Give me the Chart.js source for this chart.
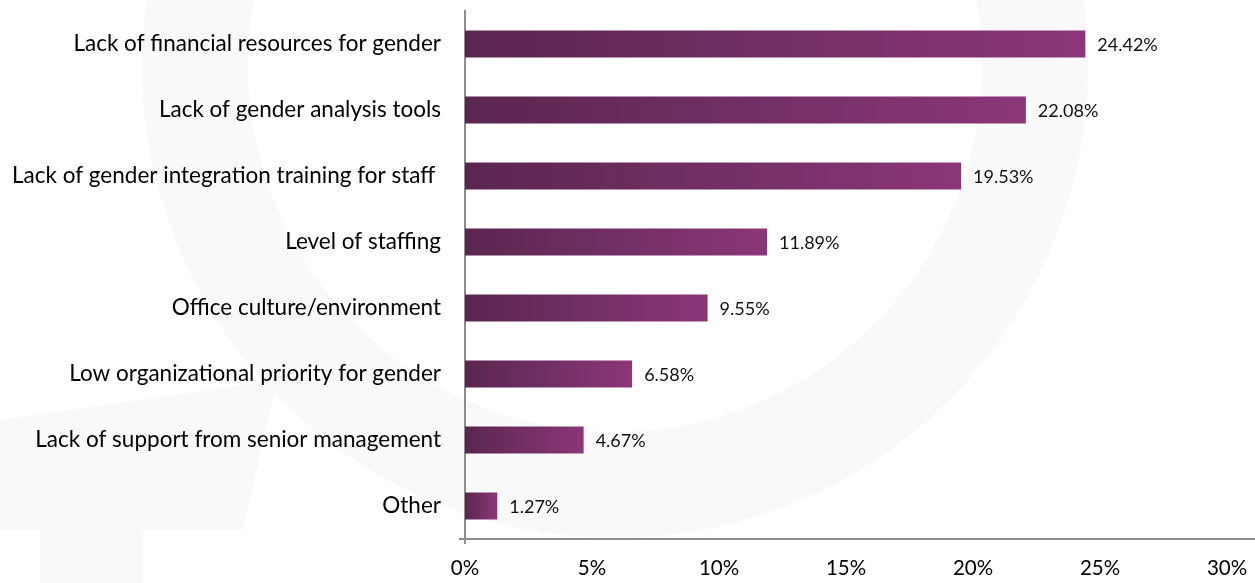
<!DOCTYPE html>
<html>
<head>
<meta charset="utf-8">
<script src="https://cdn.jsdelivr.net/npm/chart.js@4"></script>
<style>
  html, body { margin: 0; padding: 0; background: #fff; }
  #wrap { width: 1255px; height: 583px; }
</style>
</head>
<body>
<div id="wrap"><canvas id="barrierChart"></canvas></div>
<script>
const categories = [
    'Lack of financial resources for gender',
    'Lack of gender analysis tools',
    'Lack of gender integration training for staff ',
    'Level of staffing',
    'Office culture/environment',
    'Low organizational priority for gender',
    'Lack of support from senior management',
    'Other'
];
const shares = [24.42, 22.08, 19.53, 11.89, 9.55, 6.58, 4.67, 1.27];
const tickValues = [0, 5, 10, 15, 20, 25, 30];

const FONT = 'Lato, "Open Sans", sans-serif';

// faint watermark behind the chart
const watermark = {
    id: 'watermark',
    beforeDraw(chart) {
        const c = chart.ctx;
        c.save();
        c.fillStyle = '#fff';
        c.fillRect(0, 0, chart.width, chart.height);
        c.strokeStyle = '#f9f9f9';
        c.lineWidth = 106;
        c.beginPath();
        c.arc(615, 65, 420, 0, Math.PI * 2);
        c.stroke();
        c.fillStyle = '#f9f9f9';
        c.beginPath();
        c.moveTo(0, 420);
        c.lineTo(277, 380);
        c.lineTo(243, 530);
        c.lineTo(143, 530);
        c.lineTo(143, 583);
        c.lineTo(40, 583);
        c.lineTo(40, 530);
        c.lineTo(0, 530);
        c.closePath();
        c.fill();
        c.restore();
    }
};

// value labels to the right of each bar + small tick marks at the origin
const valueLabels = {
    id: 'valueLabels',
    afterDatasetsDraw(chart) {
        const c = chart.ctx;
        const meta = chart.getDatasetMeta(0);
        const area = chart.chartArea;
        c.save();
        c.strokeStyle = '#8e8e8e';
        c.lineWidth = 2;
        c.beginPath();
        c.moveTo(area.left - 6, area.bottom);
        c.lineTo(area.left, area.bottom);
        c.moveTo(area.left, area.bottom);
        c.lineTo(area.left, area.bottom + 5);
        c.stroke();

        c.font = '18px ' + FONT;
        c.fillStyle = '#111';
        c.textAlign = 'left';
        c.textBaseline = 'middle';
        meta.data.forEach((bar, i) => {
            c.fillText(shares[i].toFixed(2) + '%', bar.x + 12, bar.y + 1);
        });
        c.restore();
    }
};

function barGradient(context) {
    const chart = context.chart;
    if (!chart.chartArea) return '#733064';
    const xs = chart.scales.x;
    const x0 = xs.getPixelForValue(0);
    const x1 = xs.getPixelForValue(context.raw);
    const g = chart.ctx.createLinearGradient(x0, 0, x1, 0);
    g.addColorStop(0, '#5a2650');
    g.addColorStop(0.5, '#722f64');
    g.addColorStop(1, '#8b3679');
    return g;
}

new Chart(document.getElementById('barrierChart'), {
    type: 'bar',
    data: {
        labels: categories,
        datasets: [{
            data: shares,
            backgroundColor: barGradient,
            borderWidth: 0,
            categoryPercentage: 1,
            barPercentage: 0.41
        }]
    },
    options: {
        indexAxis: 'y',
        responsive: true,
        maintainAspectRatio: false,
        animation: false,
        layout: { padding: { top: 11, right: 0, left: 0, bottom: 0 } },
        plugins: {
            legend: { display: false },
            tooltip: { enabled: false }
        },
        scales: {
            x: {
                min: 0,
                max: 31.1,
                grid: { display: false, drawTicks: false },
                border: { display: true, color: '#8e8e8e', width: 2 },
                ticks: {
                    stepSize: 5,
                    padding: 17,
                    color: '#000',
                    font: { family: FONT, size: 20.5 },
                    callback: v => v + '%'
                },
                afterBuildTicks: scale => {
                    scale.ticks = tickValues.map(v => ({ value: v }));
                },
                afterFit: scale => {
                    scale.height = 44;
                    scale.paddingLeft = 0;
                    scale.paddingRight = 0;
                }
            },
            y: {
                grid: { display: false, drawTicks: false },
                border: { display: true, color: '#8e8e8e', width: 2 },
                ticks: {
                    padding: 24,
                    color: '#000',
                    font: { family: FONT, size: 22.5 }
                },
                afterFit: scale => {
                    scale.width = 465;
                    scale.paddingTop = 0;
                    scale.paddingBottom = 0;
                }
            }
        }
    },
    plugins: [watermark, valueLabels]
});
</script>
</body>
</html>
